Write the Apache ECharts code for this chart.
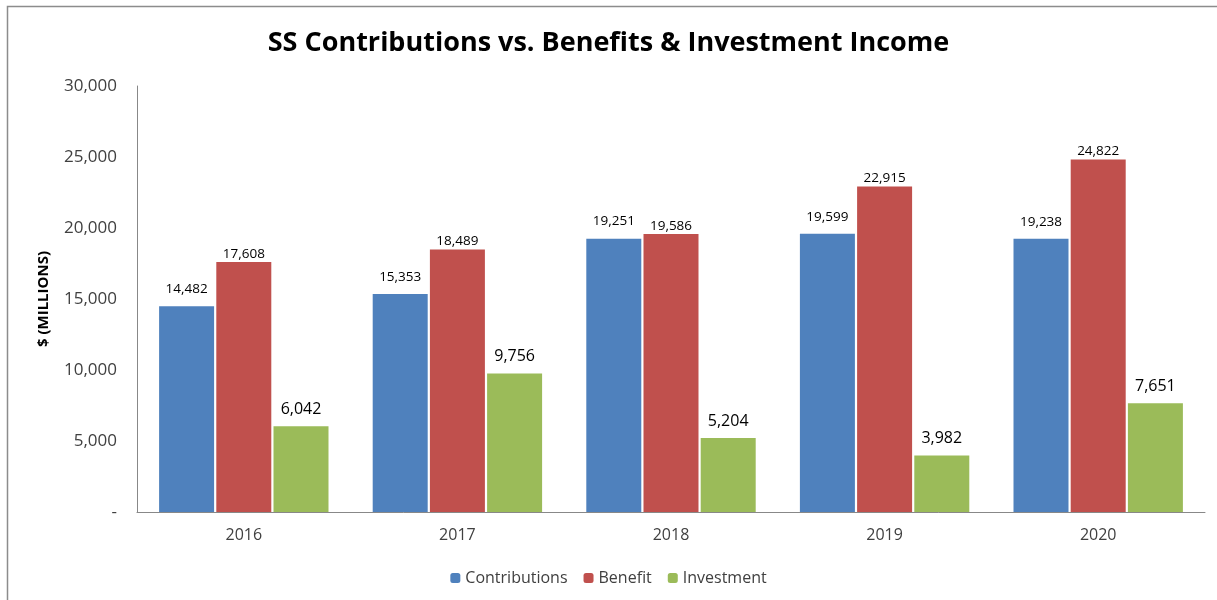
<!DOCTYPE html>
<html><head><meta charset="utf-8">
<script src="https://cdn.jsdelivr.net/npm/echarts@6/dist/echarts.min.js"></script>
<style>html,body{margin:0;padding:0;background:#fff}#c{width:1217px;height:600px}</style>
</head><body><div id="c"></div>
<script>
const categories = ['2016','2017','2018','2019','2020'];
const contributions = [14482, 15353, 19251, 19599, 19238];
const benefit = [17608, 18489, 19586, 22915, 24822];
const investment = [6042, 9756, 5204, 3982, 7651];
const yTicks = [0, 5000, 10000, 15000, 20000, 25000, 30000];

const fmt = v => v === 0 ? '-' : v.toLocaleString('en-US');
const font = 'Open Sans, Lato, sans-serif';
const chart = echarts.init(document.getElementById('c'));
chart.setOption({
  animation: false,
  textStyle: { fontFamily: font },
  title: {
    text: 'SS Contributions vs. Benefits & Investment Income',
    left: 'center', top: 25,
    textStyle: { fontFamily: font, fontSize: 27, fontWeight: 'bold', color: '#000' }
  },
  graphic: [{ type: 'rect', shape: { x: 7.5, y: 6.5, width: 1230, height: 600 }, style: { fill: 'none', stroke: '#8c8c8c', lineWidth: 1.5 } }],
  legend: {
    bottom: 9, left: 'center', itemWidth: 10, itemHeight: 10, itemGap: 16,
    textStyle: { fontFamily: font, fontSize: 16, color: '#404040' },
    data: ['Contributions', 'Benefit', 'Investment']
  },
  grid: { left: 137, right: 12, top: 86, bottom: 88, containLabel: false },
  xAxis: {
    type: 'category', data: categories,
    axisLine: { lineStyle: { color: '#888' } }, axisTick: { show: false },
    axisLabel: { fontSize: 16, color: '#404040', margin: 15 }
  },
  yAxis: {
    type: 'value', min: yTicks[0], max: yTicks[yTicks.length - 1], interval: 5000,
    name: '$ (MILLIONS)', nameLocation: 'middle', nameGap: 86, nameRotate: 90,
    nameTextStyle: { fontFamily: font, fontSize: 15, fontWeight: 'bold', color: '#000' },
    axisLine: { show: true, lineStyle: { color: '#888' } }, axisTick: { show: false },
    splitLine: { show: false },
    axisLabel: { fontSize: 17, color: '#404040', margin: 20, formatter: fmt }
  },
  series: [
    { name: 'Contributions', type: 'bar', data: contributions, barWidth: 55, barGap: '4%',
      itemStyle: { color: '#4F81BD' },
      label: { show: true, position: 'top', distance: 10, fontSize: 13.5, color: '#000', formatter: p => fmt(p.value) } },
    { name: 'Benefit', type: 'bar', data: benefit, barWidth: 55, barGap: '4%',
      itemStyle: { color: '#C0504D' },
      label: { show: true, position: 'top', distance: 1, fontSize: 13.5, color: '#000', formatter: p => fmt(p.value) } },
    { name: 'Investment', type: 'bar', data: investment, barWidth: 55, barGap: '4%',
      itemStyle: { color: '#9BBB59' },
      label: { show: true, position: 'top', distance: 9, fontSize: 16, color: '#000', formatter: p => fmt(p.value) } }
  ]
});
</script></body></html>
